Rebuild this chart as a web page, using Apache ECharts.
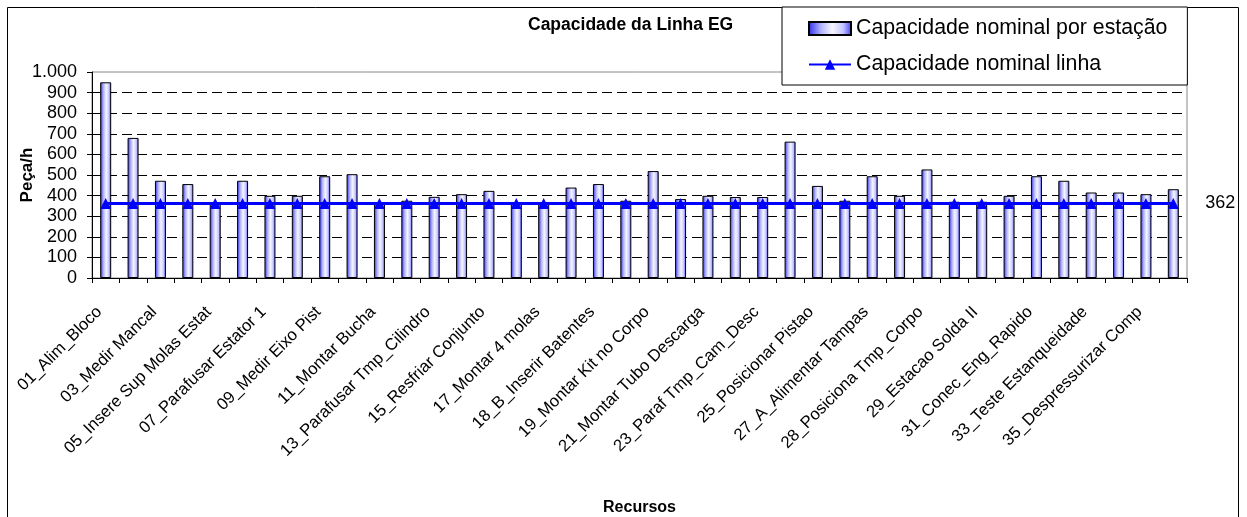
<!DOCTYPE html>
<html>
<head>
<meta charset="utf-8">
<script src="https://cdn.jsdelivr.net/npm/echarts@6/dist/echarts.min.js"></script>
<style>
  html, body { margin: 0; padding: 0; background: #fff; }
  #chart { width: 1247px; height: 517px; }
</style>
</head>
<body>
<div id="chart"></div>
<script>
// recursos (estações) da linha EG
const recursos = [
  '01_Alim_Bloco', '02_Alim_Estator', '03_Medir Mancal', '04_Montar Mancal',
  '05_Insere Sup Molas Estat', '06_Montar Estator', '07_Parafusar Estator 1', '08_Parafusar Estator 2',
  '09_Medir Eixo Pist', '10_Montar Eixo', '11_Montar Bucha', '12_Montar Cilindro',
  '13_Parafusar Tmp_Cilindro', '14_Soldar Conjunto', '15_Resfriar Conjunto', '16_Montar Molas',
  '17_Montar 4 molas', '18_A_Inserir Batentes', '18_B_Inserir Batentes', '18_C_Inserir Batentes',
  '19_Montar Kit no Corpo', '20_Montar Valvula', '21_Montar Tubo Descarga', '22_Soldar Tubo',
  '23_Paraf Tmp_Cam_Desc', '24_Montar Pistao', '25_Posicionar Pistao', '26_Montar Biela',
  '27_A_Alimentar Tampas', '27_B_Montar Tampas', '28_Posiciona Tmp_Corpo', '28_B_Soldar Tampas',
  '29_Estacao Solda II', '30_Resfriar Corpo', '31_Conec_Eng_Rapido', '32_Carga Gas',
  '33_Teste Estanqueidade', '34_Teste Eletrico', '35_Despressurizar Comp', '36_Descarregar Comp'
]

// capacidade nominal por estação (peça/h)
const capEstacao = [
  950, 680, 472, 456, 368, 472, 399, 399, 494, 504,
  360, 375, 394, 407, 423, 360, 360, 439, 456, 375,
  519, 383, 399, 393, 393, 662, 447, 375, 494, 399,
  527, 370, 370, 399, 494, 472, 415, 415, 407, 431
]

// capacidade nominal da linha
const capLinha = [
  362, 362, 362, 362, 362, 362, 362, 362, 362, 362,
  362, 362, 362, 362, 362, 362, 362, 362, 362, 362,
  362, 362, 362, 362, 362, 362, 362, 362, 362, 362,
  362, 362, 362, 362, 362, 362, 362, 362, 362, 362
]

const FONT = 'Liberation Sans, Arial, sans-serif'

// gradiente horizontal das barras (estilo Excel)
const barFill = new echarts.graphic.LinearGradient(0, 0, 1, 0, [
  { offset: 0, color: '#2a2ae6' },
  { offset: 0.3, color: '#b4b4ff' },
  { offset: 0.55, color: '#f6f6ff' },
  { offset: 0.8, color: '#c4c4ff' },
  { offset: 1, color: '#3c3cff' }
])

// linhas de grade: a de 1.000 fica por conta da borda cinza
const gridColors = ['#000', '#000', '#000', '#000', '#000', '#000', '#000', '#000', '#000', '#000', 'rgba(0,0,0,0)']

const chart = echarts.init(document.getElementById('chart'))

const option = {
  animation: false,
  backgroundColor: '#fff',
  textStyle: { fontFamily: FONT },
  title: {
    text: 'Capacidade da Linha EG',
    left: 528,
    top: 16,
    padding: 0,
    textStyle: { fontFamily: FONT, fontSize: 17.5, fontWeight: 'bold', color: '#000' }
  },
  legend: {
    orient: 'vertical',
    left: 782,
    top: 7,
    padding: [11, 20, 10, 26],
    itemGap: 15,
    itemWidth: 42,
    itemHeight: 13,
    backgroundColor: '#fff',
    borderColor: '#000',
    borderWidth: 1,
    borderRadius: 0,
    textStyle: { fontFamily: FONT, fontSize: 21.3, color: '#000' },
    data: [
      { name: 'Capacidade nominal por estação', icon: 'rect' },
      { name: 'Capacidade nominal linha' }
    ]
  },
  grid: {
    left: 92,
    right: 60,
    top: 72,
    bottom: 239,
    show: true,
    borderColor: '#888',
    borderWidth: 1,
    backgroundColor: '#fff'
  },
  xAxis: {
    type: 'category',
    data: recursos,
    name: 'Recursos',
    nameLocation: 'middle',
    nameGap: 222,
    nameMoveOverlap: false,
    nameTextStyle: { fontFamily: FONT, fontSize: 16, fontWeight: 'bold', color: '#000' },
    axisLine: { lineStyle: { color: '#000', width: 1 } },
    axisTick: { show: true, interval: 0, length: 5, lineStyle: { color: '#000' } },
    axisLabel: {
      interval: 1,
      rotate: 45,
      margin: 25,
      padding: [0, 9, 0, 0],
      fontFamily: FONT,
      fontSize: 16.7,
      color: '#000'
    }
  },
  yAxis: {
    type: 'value',
    min: 0,
    max: 1000,
    interval: 100,
    name: 'Peça/h',
    nameLocation: 'middle',
    nameGap: 56,
    nameMoveOverlap: false,
    nameTextStyle: { fontFamily: FONT, fontSize: 17, fontWeight: 'bold', color: '#000' },
    axisLine: { show: true, lineStyle: { color: '#000', width: 1 } },
    axisTick: { show: true, length: 5, lineStyle: { color: '#000' } },
    axisLabel: {
      margin: 15,
      fontFamily: FONT,
      fontSize: 18,
      color: '#000',
      formatter: (v) => (v >= 1000 ? Math.floor(v / 1000) + '.' + String(v % 1000).padStart(3, '0') : String(v))
    },
    splitLine: {
      show: true,
      lineStyle: { color: gridColors, type: [10, 5], width: 1 }
    }
  },
  series: [
    {
      name: 'Capacidade nominal por estação',
      type: 'bar',
      data: capEstacao,
      barWidth: 11,
      itemStyle: {
        color: barFill,
        borderColor: '#000',
        borderWidth: 1
      }
    },
    {
      name: 'Capacidade nominal linha',
      type: 'line',
      data: capLinha,
      symbol: 'triangle',
      symbolSize: 11,
      showAllSymbol: true,
      color: '#0000ff',
      lineStyle: { color: '#0000ff', width: 3 },
      itemStyle: { color: '#0000ff' },
      z: 3,
      endLabel: {
        show: true,
        distance: 32,
        fontFamily: FONT,
        fontSize: 18,
        color: '#000',
        formatter: (p) => String(p.value)
      }
    }
  ],
  graphic: [
    {
      type: 'rect',
      silent: true,
      z: -10,
      shape: { x: 7.5, y: 7.5, width: 1231, height: 530 },
      style: { fill: 'none', stroke: '#000', lineWidth: 1 }
    }
  ]
}

chart.setOption(option)
</script>
</body>
</html>
